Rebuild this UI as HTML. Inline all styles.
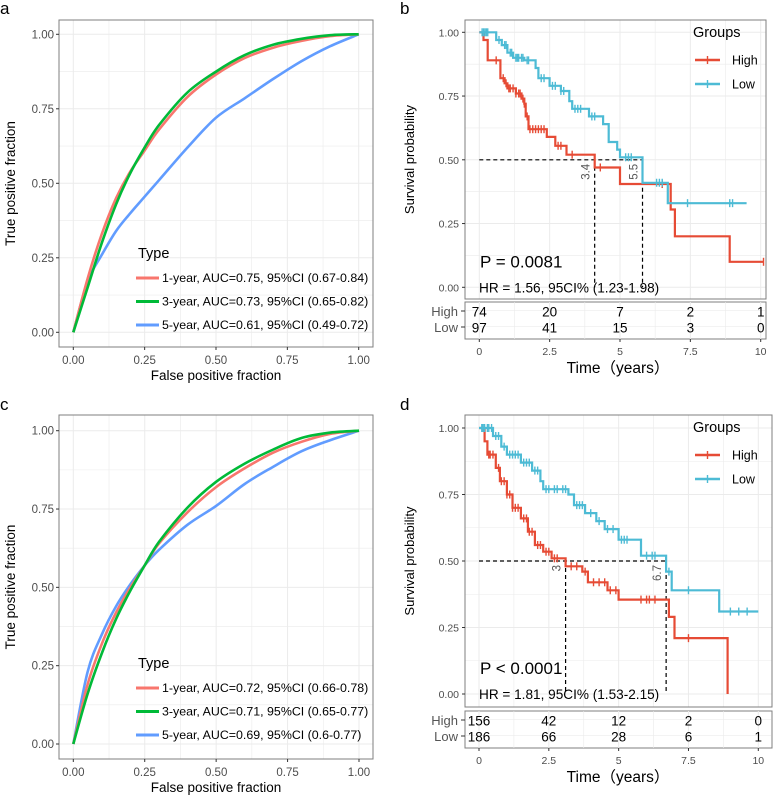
<!DOCTYPE html>
<html><head><meta charset="utf-8"><style>
body{margin:0;background:#fff}
svg text{font-family:"Liberation Sans","Noto Sans CJK SC",sans-serif}
</style></head><body>
<svg id="fig" width="775" height="801" viewBox="0 0 775 801" xmlns="http://www.w3.org/2000/svg"></svg>
<script>
// ---------- ROC data (panel a) ----------
const rocFpr = [0,0.05,0.1,0.15,0.2,0.25,0.3,0.4,0.5,0.6,0.7,0.8,0.9,1];
const rocA1 = [0,0.18,0.33,0.45,0.54,0.61,0.68,0.79,0.865,0.92,0.955,0.978,0.994,1];
const rocA3 = [0,0.15,0.30,0.43,0.535,0.62,0.695,0.805,0.875,0.93,0.965,0.985,0.997,1];
const rocA5 = [0,0.17,0.26,0.34,0.40,0.455,0.51,0.62,0.72,0.785,0.85,0.91,0.96,1];
const legA = ["1-year, AUC=0.75, 95%CI (0.67-0.84)","3-year, AUC=0.73, 95%CI (0.65-0.82)","5-year, AUC=0.61, 95%CI (0.49-0.72)"];
// ---------- ROC data (panel c) ----------
const rocC1 = [0,0.19,0.32,0.42,0.50,0.57,0.64,0.74,0.82,0.88,0.93,0.965,0.99,1];
const rocC3 = [0,0.16,0.29,0.40,0.49,0.57,0.645,0.755,0.837,0.895,0.94,0.977,0.994,1];
const rocC5 = [0,0.23,0.35,0.44,0.51,0.57,0.62,0.70,0.76,0.83,0.885,0.935,0.97,1];
const legC = ["1-year, AUC=0.72, 95%CI (0.66-0.78)","3-year, AUC=0.71, 95%CI (0.65-0.77)","5-year, AUC=0.69, 95%CI (0.6-0.77)"];
const rocTicks = ["0.00","0.25","0.50","0.75","1.00"];
// ---------- KM data (panel b) ----------
const bHighT = [0,0.15,0.3,0.75,0.9,1.0,1.3,1.5,1.6,1.65,1.75,2.4,2.7,3.1,4.1,5.0,6.8,6.95,8.9];
const bHighS = [1,0.97,0.89,0.82,0.80,0.78,0.76,0.74,0.72,0.67,0.62,0.59,0.555,0.52,0.47,0.405,0.305,0.20,0.10];
const bHighEnd = 10.1;
const bHighCens = [0.6,0.85,0.95,1.05,1.1,1.2,1.3,1.4,1.45,1.55,1.6,1.7,1.8,1.9,2.0,2.1,2.2,2.3,2.8,2.9,3.3,4.3,6.5,10.1];
const bLowT = [0,0.6,0.8,1.0,1.2,1.6,2.0,2.1,2.5,2.9,3.2,3.3,3.9,4.4,4.6,4.9,5.0,5.8,6.7];
const bLowS = [1,0.97,0.95,0.92,0.90,0.89,0.86,0.82,0.79,0.77,0.73,0.70,0.67,0.64,0.57,0.54,0.51,0.41,0.33];
const bLowEnd = 9.5;
const bLowCens = [0.1,0.15,0.2,0.25,0.3,0.7,0.9,0.95,1.1,1.15,1.3,1.35,1.4,1.5,1.55,1.7,1.75,2.2,2.3,2.6,2.7,2.9,3.0,3.4,3.5,3.6,4.0,4.1,5.2,5.3,5.4,6.3,6.4,6.5,7.4,8.9,9.0];
const bMed = [4.1,5.8];
const bMedLab = ["3.4","5.5"];
const bRiskHigh = ["74","20","7","2","1"];
const bRiskLow = ["97","41","15","3","0"];
// ---------- KM data (panel d) ----------
const dHighT = [0,0.2,0.3,0.6,0.75,1.0,1.2,1.5,1.75,2.0,2.3,2.6,3.1,3.7,3.9,4.6,5.0,6.8,7.0,8.9];
const dHighS = [1,0.95,0.90,0.85,0.80,0.75,0.70,0.66,0.61,0.56,0.535,0.51,0.48,0.46,0.42,0.39,0.355,0.29,0.21,0];
const dHighEnd = 8.9;
const dHighCens = [0.35,0.4,0.5,0.7,0.8,0.9,1.0,1.1,1.2,1.3,1.4,1.6,1.7,1.8,1.9,2.1,2.2,2.4,2.5,2.7,2.8,3.3,3.5,3.8,4.1,4.3,4.5,4.7,4.9,5.8,6.0,6.1,6.3,7.5];
const dLowT = [0,0.5,0.8,1.0,1.5,1.9,2.2,2.3,3.2,3.4,3.8,4.2,4.5,5.0,5.8,6.7,6.9,8.6];
const dLowS = [1,0.97,0.93,0.90,0.87,0.84,0.80,0.77,0.75,0.71,0.68,0.65,0.62,0.58,0.52,0.46,0.39,0.31];
const dLowEnd = 10;
const dLowCens = [0.1,0.15,0.2,0.3,0.35,0.45,0.6,0.7,0.9,1.1,1.2,1.3,1.4,1.6,1.7,1.8,2.0,2.1,2.4,2.5,2.7,2.8,3.0,3.1,3.5,3.6,3.7,4.0,4.3,4.6,4.8,5.1,5.2,5.3,6.0,6.2,6.3,6.8,7.5,9.0,9.3,9.6];
const dMed = [3.1,6.7];
const dMedLab = ["3","6.7"];
const dRiskHigh = ["156","42","12","2","0"];
const dRiskLow = ["186","66","28","6","1"];
const kmTicksY = ["0.00","0.25","0.50","0.75","1.00"];
const kmTicksX = ["0","2.5","5","7.5","10"];

const svg = document.getElementById('fig');
const NS = 'http://www.w3.org/2000/svg';
function el(tag, attrs, parent, txt){
  const e = document.createElementNS(NS, tag);
  for (const k in attrs) e.setAttribute(k, attrs[k]);
  if (txt !== undefined) e.textContent = txt;
  (parent||svg).appendChild(e);
  return e;
}
const RED='#e64b35', BLUE='#4dbbd5';

function smoothPath(pts){
  let d='M'+pts[0][0].toFixed(1)+' '+pts[0][1].toFixed(1);
  for(let i=0;i<pts.length-1;i++){
    const p0=pts[Math.max(0,i-1)],p1=pts[i],p2=pts[i+1],p3=pts[Math.min(pts.length-1,i+2)];
    const c1=[p1[0]+(p2[0]-p0[0])/6,p1[1]+(p2[1]-p0[1])/6];
    const c2=[p2[0]-(p3[0]-p1[0])/6,p2[1]-(p3[1]-p1[1])/6];
    d+='C'+c1[0].toFixed(1)+' '+c1[1].toFixed(1)+' '+c2[0].toFixed(1)+' '+c2[1].toFixed(1)+' '+p2[0].toFixed(1)+' '+p2[1].toFixed(1);
  }
  return d;
}

function roc(cfg){
  const g = el('g', {}, svg);
  
  
  const X = v => cfg.x0 + v*(cfg.x1-cfg.x0);
  const Y = v => cfg.y0 - v*(cfg.y0-cfg.y1);
  el('rect',{x:cfg.bx0,y:cfg.by0,width:cfg.bx1-cfg.bx0,height:cfg.by1-cfg.by0,fill:'#fff'},g);
  for (let i=0;i<=8;i++){
    const v=i/8;
    el('line',{x1:X(v),x2:X(v),y1:cfg.by0,y2:cfg.by1,stroke:'#ebebeb','stroke-width':i%2?0.6:1},g);
    el('line',{y1:Y(v),y2:Y(v),x1:cfg.bx0,x2:cfg.bx1,stroke:'#ebebeb','stroke-width':i%2?0.6:1},g);
  }
  el('rect',{x:cfg.bx0,y:cfg.by0,width:cfg.bx1-cfg.bx0,height:cfg.by1-cfg.by0,fill:'none',stroke:'#7f7f7f','stroke-width':1},g);
  rocTicks.forEach((t,i)=>{
    const v=i/4;
    const ty = el('text',{x:cfg.bx0-5,y:Y(v)+4,'text-anchor':'end','font-size':11.5,fill:'#4d4d4d'},g,t);
    
    
    el('line',{x1:cfg.bx0-3,x2:cfg.bx0,y1:Y(v),y2:Y(v),stroke:'#333'},g);
    const tx = el('text',{x:X(v),y:cfg.by1+17,'text-anchor':'middle','font-size':11.5,fill:'#4d4d4d'},g,t);
    
    
    el('line',{y1:cfg.by1,y2:cfg.by1+3,x1:X(v),x2:X(v),stroke:'#333'},g);
  });
  const xt = el('text',{x:(cfg.bx0+cfg.bx1)/2,y:cfg.by1+33,'text-anchor':'middle','font-size':13.5},g,'False positive fraction');
  
  
  const yc=(cfg.by0+cfg.by1)/2;
  const yt = el('text',{x:15,y:yc,transform:`rotate(-90 15 ${yc})`,'text-anchor':'middle','font-size':13.5},g,'True positive fraction');
  
  
  const cols=['#f8766d','#00ba38','#619cff'];
  const order=[2,0,1];
  order.forEach(k=>{
    const ys=cfg.series[k];
    const pts=rocFpr.map((f,i)=>[X(f),Y(ys[i])]);
    const p = el('path',{d:smoothPath(pts),fill:'none',stroke:cols[k],'stroke-width':2.6,'stroke-linejoin':'round'},g);
    
    
  });
  const lt = el('text',{x:138,y:cfg.legY,'font-size':14.5},g,'Type');
  
  
  cfg.leg.forEach((s,k)=>{
    const yy=cfg.legY+24+k*23.5;
    el('line',{x1:136,x2:159,y1:yy-4,y2:yy-4,stroke:cols[k],'stroke-width':3},g);
    const t = el('text',{x:162,y:yy,'font-size':12.4},g,s);
    
    
  });
}

function km(cfg){
  const g = el('g', {}, svg);
  
  
  const X = v => cfg.x0 + v/10*(cfg.x10-cfg.x0);
  const Y = v => cfg.y0 - v*(cfg.y0-cfg.y1);
  el('rect',{x:cfg.bx0,y:cfg.by0,width:cfg.bx1-cfg.bx0,height:cfg.by1-cfg.by0,fill:'#fff'},g);
  for (let i=0;i<=8;i++){
    const v=i/8;
    el('line',{x1:X(v*10),x2:X(v*10),y1:cfg.by0,y2:cfg.by1,stroke:'#ebebeb','stroke-width':i%2?0.6:1},g);
    el('line',{y1:Y(v),y2:Y(v),x1:cfg.bx0,x2:cfg.bx1,stroke:'#ebebeb','stroke-width':i%2?0.6:1},g);
  }
  el('rect',{x:cfg.bx0,y:cfg.by0,width:cfg.bx1-cfg.bx0,height:cfg.by1-cfg.by0,fill:'none',stroke:'#7f7f7f'},g);
  kmTicksY.forEach((t,i)=>{
    const v=i/4;
    const ty = el('text',{x:cfg.bx0-6,y:Y(v)+4,'text-anchor':'end','font-size':10.5,fill:'#4d4d4d'},g,t);
    
    
    el('line',{x1:cfg.bx0-3,x2:cfg.bx0,y1:Y(v),y2:Y(v),stroke:'#333'},g);
  });
  const yc=(cfg.by0+cfg.by1)/2;
  const yt = el('text',{x:414,y:yc,transform:`rotate(-90 414 ${yc})`,'text-anchor':'middle','font-size':13},g,'Survival probability');
  
  
  const dash={stroke:'#000','stroke-width':1.2,'stroke-dasharray':'4 3',fill:'none'};
  el('line',Object.assign({x1:X(0),x2:X(cfg.med[1]),y1:Y(0.5),y2:Y(0.5)},dash),g);
  cfg.med.forEach((m,i)=>{
    el('line',Object.assign({x1:X(m),x2:X(m),y1:Y(0.5),y2:Y(0)},dash),g);
    const tx=X(m)-5, ty=Y(0.5)+4;
    const t = el('text',{x:tx,y:ty,transform:`rotate(-90 ${tx} ${ty})`,'text-anchor':'end','font-size':11.5,fill:'#555'},g,cfg.medLab[i]);
    
    
  });
  function curve(T,S,end,cens,col,nm){
    let d='M'+X(T[0])+' '+Y(S[0]);
    for(let i=1;i<T.length;i++){ d+='H'+X(T[i]).toFixed(1)+'V'+Y(S[i]).toFixed(1); }
    d+='H'+X(end).toFixed(1);
    const p = el('path',{d:d,fill:'none',stroke:col,'stroke-width':2.2},g);
    
    
    cens.forEach(c=>{
      let s=S[0]; for(let i=0;i<T.length;i++) if(T[i]<=c) s=S[i];
      const m = el('line',{x1:X(c),x2:X(c),y1:Y(s)-4,y2:Y(s)+4,stroke:col,'stroke-width':1.4},g);
      
      
    });
  }
  curve(cfg.hT,cfg.hS,cfg.hEnd,cfg.hC,RED,'high');
  curve(cfg.lT,cfg.lS,cfg.lEnd,cfg.lC,BLUE,'low');
  const lg = el('text',{x:693,y:cfg.by0+17,'font-size':14.5},g,'Groups');
  
  
  [['High',RED],['Low',BLUE]].forEach((e,k)=>{
    const yy=cfg.by0+40+k*24;
    el('line',{x1:695,x2:720,y1:yy,y2:yy,stroke:e[1],'stroke-width':2.4},g);
    el('line',{x1:707.5,x2:707.5,y1:yy-4,y2:yy+4,stroke:e[1],'stroke-width':1.4},g);
    const t = el('text',{x:732,y:yy+4.5,'font-size':12.5},g,e[0]);
    
    
  });
  const pv = el('text',{x:480,y:Y(0)-20,'font-size':17},g,cfg.p);
  
  
  const hr = el('text',{x:479,y:Y(0)+5,'font-size':13.6},g,cfg.hr);
  
  
  el('rect',{x:cfg.bx0,y:cfg.ry0,width:cfg.bx1-cfg.bx0,height:cfg.ry1-cfg.ry0,fill:'#fff',stroke:'#7f7f7f'},g);
  for(let i=0;i<=8;i++) el('line',{x1:X(i*1.25),x2:X(i*1.25),y1:cfg.ry0,y2:cfg.ry1,stroke:'#ebebeb','stroke-width':i%2?0.6:1},g);
  const r1=cfg.ry0+14, r2=cfg.ry0+30;
  [['High',r1,cfg.rH],['Low',r2,cfg.rL]].forEach(r=>{
    el('rect',{x:cfg.bx0+1,y:r[1]-6,width:cfg.bx1-cfg.bx0-2,height:0.6,fill:'#ebebeb'},g);
    const lab = el('text',{x:cfg.bx0-7,y:r[1],'text-anchor':'end','font-size':13,fill:'#555'},g,r[0]);
    
    
    el('line',{x1:cfg.bx0-4,x2:cfg.bx0,y1:r[1]-5,y2:r[1]-5,stroke:'#333'},g);
    r[2].forEach((n,i)=>{
      const t = el('text',{x:X(i*2.5),y:r[1]+0.5,'text-anchor':'middle','font-size':13.5},g,n);
      
      
    });
  });
  kmTicksX.forEach((t,i)=>{
    el('line',{x1:X(i*2.5),x2:X(i*2.5),y1:cfg.ry1,y2:cfg.ry1+3,stroke:'#333'},g);
    const tx = el('text',{x:X(i*2.5),y:cfg.ry1+16,'text-anchor':'middle','font-size':10.5,fill:'#4d4d4d'},g,t);
    
    
  });
  const xt = el('text',{x:618,y:cfg.ry1+34,'text-anchor':'middle','font-size':15.5},g,'Time（years）');
  
  
}

roc({name:'roc-panel-a',bx0:59,bx1:373,by0:20,by1:347,x0:73.3,x1:358.7,y0:332.3,y1:34.3,series:[rocA1,rocA3,rocA5],leg:legA,legY:258});
roc({name:'roc-panel-c',bx0:59,bx1:373,by0:415,by1:759,x0:73.3,x1:359,y0:744,y1:430.7,series:[rocC1,rocC3,rocC5],leg:legC,legY:668});
km({name:'km-panel-b',bx0:465,bx1:766,by0:20,by1:299,x0:479.3,x10:760.7,y0:287.3,y1:32.3,
  hT:bHighT,hS:bHighS,hEnd:bHighEnd,hC:bHighCens,lT:bLowT,lS:bLowS,lEnd:bLowEnd,lC:bLowCens,
  med:bMed,medLab:bMedLab,p:'P = 0.0081',hr:'HR = 1.56, 95CI% (1.23-1.98)',ry0:302,ry1:339,rH:bRiskHigh,rL:bRiskLow});
km({name:'km-panel-d',bx0:465,bx1:772,by0:415,by1:707,x0:479,x10:758.3,y0:694,y1:428,
  hT:dHighT,hS:dHighS,hEnd:dHighEnd,hC:dHighCens,lT:dLowT,lS:dLowS,lEnd:dLowEnd,lC:dLowCens,
  med:dMed,medLab:dMedLab,p:'P < 0.0001',hr:'HR = 1.81, 95CI% (1.53-2.15)',ry0:711,ry1:748,rH:dRiskHigh,rL:dRiskLow});

[['a',0,14],['b',400,14],['c',0,410],['d',400,410]].forEach(l=>{
  const t = el('text',{x:l[1],y:l[2],'font-size':17},svg,l[0]);
  
  
});
</script>
</body></html>
